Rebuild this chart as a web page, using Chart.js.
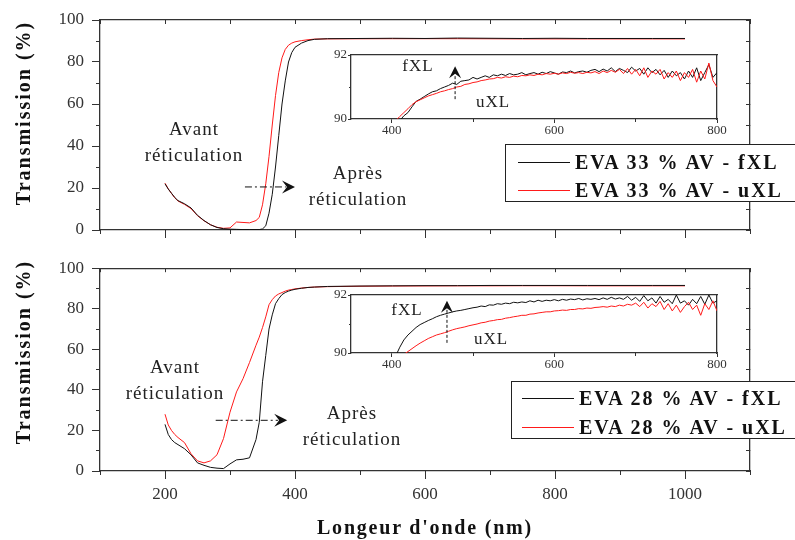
<!DOCTYPE html>
<html lang="fr">
<head>
<meta charset="utf-8">
<title>Transmission EVA</title>
<script src="https://cdn.jsdelivr.net/npm/chart.js@4.4.1/dist/chart.umd.min.js"></script>
<style>
  html, body { margin: 0; background: #fff; }
  #page { position: relative; width: 795px; height: 540px; overflow: hidden;
          font-family: "Liberation Serif", "Times New Roman", serif; color: #222; }
  #page canvas { position: absolute; }
  .note { position: absolute; font-size: 19px; line-height: 26px; letter-spacing: 1px;
          text-align: center; white-space: nowrap; transform: translateX(-50%); }
  .tag { position: absolute; font-size: 17px; letter-spacing: 1px; white-space: nowrap;
         transform: translate(-50%, -50%); }
  .ytitle { position: absolute; font-weight: bold; font-size: 20px; letter-spacing: 2px; white-space: nowrap;
            transform: translate(-50%, -50%) rotate(-90deg); color: #111; }
  .xtitle { position: absolute; font-weight: bold; font-size: 20px; letter-spacing: 1.8px; white-space: nowrap;
            transform: translate(-50%, -50%); color: #111; }
  .legend { position: absolute; width: 330px; height: 56px; border: 1.3px solid #222; background: #fff; }
  .legend .row { position: absolute; height: 28px; display: flex; align-items: center;
                 font-weight: bold; font-size: 20px; letter-spacing: 2px; color: #111; white-space: nowrap; }
  .legend .sw { display: inline-block; width: 52px; height: 0; border-top: 1.2px solid; margin-right: 5px; }
</style>
</head>
<body>
<div id="page">
  <canvas id="mainTop" width="795" height="250" style="left:0;top:0"></canvas>
  <canvas id="mainBot" width="795" height="290" style="left:0;top:250px"></canvas>
  <canvas id="insetTop" width="440" height="100" style="left:300px;top:40px"></canvas>
  <canvas id="insetBot" width="440" height="95" style="left:300px;top:280px"></canvas>

  <div class="ytitle" style="left:23px;top:113px">Transmission (%)</div>
  <div class="ytitle" style="left:23px;top:352px">Transmission (%)</div>
  <div class="xtitle" style="left:425px;top:527px">Longeur d'onde (nm)</div>

  <div class="note" style="left:194px;top:116px">Avant<br>réticulation</div>
  <div class="note" style="left:358px;top:160px">Après<br>réticulation</div>
  <div class="note" style="left:175px;top:354px">Avant<br>réticulation</div>
  <div class="note" style="left:352px;top:400px">Après<br>réticulation</div>

  <div class="tag" style="left:418px;top:66px">fXL</div>
  <div class="tag" style="left:493px;top:102px">uXL</div>
  <div class="tag" style="left:407px;top:310px">fXL</div>
  <div class="tag" style="left:491px;top:339px">uXL</div>

  <div class="legend" id="legTop" style="left:505px;top:144px"></div>
  <div class="legend" id="legBot" style="left:511px;top:381px"></div>
</div>

<script>
// ---- data ----
const wlMain = [200, 205, 210, 215, 220, 230, 240, 250, 260, 270, 280, 290, 300, 310, 320, 330, 340,
  345, 350, 355, 360, 365, 370, 375, 380, 385, 390, 395, 400, 410, 420, 430, 450,
  500, 550, 600, 650, 700, 750, 800, 850, 900, 950, 1000];

// EVA 33 % AV
const t33fXL = [22, 19.5, 17.5, 15.5, 14, 12.5, 10.5, 7, 4.5, 2.5, 1.2, 0.6, 0.4, 0.3, 0.2, 0.2, 0.2,
  0.2, 0.5, 2, 8, 17, 30, 45, 60, 71, 80, 84.5, 87, 89, 90.2, 90.8, 91.1,
  91.2, 91.3, 91.2, 91.4, 91.3, 91.2, 91.3, 91.2, 91.2, 91.2, 91.2];
const t33uXL = [22.3, 19.6, 17.4, 15.3, 13.8, 12.2, 10.2, 6.8, 4.4, 2.5, 1.3, 0.8, 1.0, 3.8, 3.6, 3.4, 4.5,
  6, 12, 22, 35, 50, 64, 75, 82, 86, 88, 89, 89.6, 90.2, 90.6, 90.9, 91.0,
  91.05, 91.1, 91.1, 91.1, 91.05, 91.0, 91.0, 91.0, 91.0, 91.0, 91.0];

// EVA 28 % AV
const t28fXL = [23, 18, 15.5, 14, 13, 11, 8, 4, 2.8, 1.8, 1.4, 1.2, 3.5, 5.5, 5.8, 6.5, 15.5,
  24, 44, 57, 70, 77, 82.5, 85, 87, 88, 88.7, 89.2, 89.6, 90.1, 90.5, 90.7, 91.0,
  91.2, 91.3, 91.4, 91.4, 91.5, 91.5, 91.5, 91.5, 91.5, 91.5, 91.5];
const t28uXL = [28, 22.7, 20, 18, 16.5, 14, 8.5, 5, 4, 5, 8, 16, 29, 39, 45.5, 53.5, 62,
  66, 70.7, 76, 82, 84.5, 86.3, 87.3, 88, 88.7, 89.2, 89.5, 89.8, 90.2, 90.5, 90.7, 90.9,
  91.1, 91.2, 91.25, 91.3, 91.3, 91.35, 91.35, 91.3, 91.3, 91.3, 91.3];

// zoomed insets (90-92 %)
const wlInset = [400, 405, 410, 415, 420, 425, 430, 435, 440, 445,
  450, 455, 460, 465, 470, 475, 480, 485, 490, 495,
  500, 505, 510, 515, 520, 525, 530, 535, 540, 545,
  550, 555, 560, 565, 570, 575, 580, 585, 590, 595,
  600, 605, 610, 615, 620, 625, 630, 635, 640, 645,
  650, 655, 660, 665, 670, 675, 680, 685, 690, 695,
  700, 705, 710, 715, 720, 725, 730, 735, 740, 745,
  750, 755, 760, 765, 770, 775, 780, 785, 790, 795, 800];
const z33fXL = [89.6, 89.75, 89.95, 90.1, 90.2, 90.38, 90.55, 90.62, 90.7, 90.78,
  90.85, 90.88, 90.95, 91.0, 91.05, 91.12, 91.08, 91.18, 91.2, 91.22,
  91.3, 91.25, 91.3, 91.35, 91.3, 91.38, 91.35, 91.4, 91.36, 91.42,
  91.38, 91.4, 91.45, 91.38, 91.42, 91.45, 91.4, 91.46, 91.42, 91.48,
  91.44, 91.4, 91.47, 91.45, 91.5, 91.44, 91.48, 91.5, 91.46, 91.52,
  91.55, 91.48, 91.56, 91.5, 91.6, 91.48, 91.58, 91.52, 91.45, 91.62,
  91.5, 91.58, 91.4, 91.6, 91.45, 91.55, 91.38, 91.52, 91.3, 91.5,
  91.35, 91.45, 91.25, 91.5, 91.3, 91.6, 91.2, 91.45, 91.7, 91.3, 91.45];
const z33uXL = [89.8, 89.95, 90.08, 90.2, 90.32, 90.45, 90.54, 90.6, 90.66, 90.72,
  90.76, 90.8, 90.85, 90.88, 90.92, 90.95, 91.0, 91.02, 91.08, 91.1,
  91.14, 91.16, 91.2, 91.22, 91.25, 91.26, 91.3, 91.28, 91.32, 91.3,
  91.34, 91.32, 91.36, 91.35, 91.38, 91.36, 91.4, 91.38, 91.42, 91.4,
  91.43, 91.4, 91.44, 91.42, 91.46, 91.43, 91.45, 91.42, 91.46, 91.44,
  91.48, 91.42, 91.5, 91.45, 91.52, 91.46, 91.55, 91.42, 91.58, 91.4,
  91.55, 91.35, 91.6, 91.3, 91.5, 91.4, 91.55, 91.25, 91.45, 91.3,
  91.5, 91.2, 91.45, 91.3, 91.55, 91.15, 91.5, 91.25, 91.75, 91.2, 91.0];
const z28fXL = [89.6, 89.9, 90.2, 90.45, 90.62, 90.75, 90.88, 90.98, 91.05, 91.12,
  91.18, 91.25, 91.3, 91.34, 91.38, 91.42, 91.45, 91.47, 91.5, 91.53,
  91.56, 91.58, 91.62, 91.6, 91.66, 91.65, 91.7, 91.68, 91.72, 91.7,
  91.75, 91.73, 91.76, 91.74, 91.8, 91.76, 91.82, 91.78, 91.82, 91.8,
  91.84, 91.8, 91.85, 91.82, 91.86, 91.84, 91.88, 91.83, 91.87, 91.85,
  91.88, 91.84, 91.9, 91.85, 91.92, 91.86, 91.9, 91.85, 91.95, 91.82,
  91.92, 91.78, 91.98, 91.8, 91.9, 91.72, 91.95, 91.75, 91.85, 91.7,
  92.0, 91.72, 91.8, 91.65, 91.85, 91.7, 91.95, 91.68, 92.0, 91.72, 91.8];
const z28uXL = [89.4, 89.6, 89.8, 89.95, 90.05, 90.15, 90.25, 90.34, 90.42, 90.5,
  90.56, 90.62, 90.66, 90.7, 90.75, 90.8, 90.84, 90.87, 90.9, 90.94,
  90.97, 91.0, 91.04, 91.06, 91.1, 91.12, 91.15, 91.16, 91.2, 91.22,
  91.25, 91.27, 91.3, 91.3, 91.34, 91.35, 91.38, 91.4, 91.42, 91.42,
  91.45, 91.46, 91.48, 91.47, 91.5, 91.5, 91.53, 91.52, 91.55, 91.54,
  91.57, 91.58, 91.6, 91.58, 91.62, 91.6, 91.65, 91.62, 91.68, 91.65,
  91.72, 91.6, 91.75, 91.55, 91.7, 91.6, 91.78, 91.5, 91.7, 91.45,
  91.65, 91.4, 91.6, 91.75, 91.5, 91.65, 91.3, 91.7, 91.5, 91.8, 91.45];

const names33 = ['EVA 33 % AV - fXL', 'EVA 33 % AV - uXL'];
const names28 = ['EVA 28 % AV - fXL', 'EVA 28 % AV - uXL'];

// tick values
const mainXTicks = [200, 400, 600, 800, 1000];
const mainXAll = [100, 200, 300, 400, 500, 600, 700, 800, 900, 1000, 1100];
const mainYTicks = [0, 20, 40, 60, 80, 100];
const mainYAll = [0, 10, 20, 30, 40, 50, 60, 70, 80, 90, 100];
const insetXTicks = [400, 600, 800];
const insetXMinor = [500, 700];
const insetYTicks = [90, 92];
const insetYMinor = [91];

// ---- styling ----
const serif = '"Liberation Serif", "Times New Roman", serif';
const ink = '#333';
const black = '#111';
const red = '#ff1a1a';

const toPts = (xs, ys) => xs.map((x, i) => ({ x, y: ys[i] }));

function axis(pos, min, max, ticks, o) {
  return {
    type: 'linear', position: pos, min, max, weight: o.weight || 0,
    afterBuildTicks: s => { s.ticks = ticks.map(v => ({ value: v })); },
    ticks: {
      display: !!o.labels, color: ink, padding: o.pad || 0, maxRotation: 0, autoSkip: false,
      font: { family: serif, size: o.font || 17 }, callback: v => String(v)
    },
    grid: { drawOnChartArea: false, drawTicks: true, tickLength: o.tick || 0, tickColor: ink, tickWidth: 1 },
    border: { display: !!o.border, color: ink, width: 1.3 },
    afterFit: s => { if (s.isHorizontal()) s.height = o.size || 0; else s.width = o.size || 0; }
  };
}

// arrows placed in data coordinates
const arrowPlugin = {
  id: 'arrows',
  afterDatasetsDraw(chart, args, opts) {
    const { ctx, scales } = chart;
    (opts.items || []).forEach(a => {
      const x1 = scales.x.getPixelForValue(a.from[0]), y1 = scales.y.getPixelForValue(a.from[1]);
      const x2 = scales.x.getPixelForValue(a.to[0]), y2 = scales.y.getPixelForValue(a.to[1]);
      const ang = Math.atan2(y2 - y1, x2 - x1);
      const L = a.head;
      ctx.save();
      ctx.strokeStyle = black;
      ctx.lineWidth = 1;
      ctx.setLineDash(a.dash);
      ctx.beginPath();
      ctx.moveTo(x1, y1);
      ctx.lineTo(x2 - Math.cos(ang) * L * 0.7, y2 - Math.sin(ang) * L * 0.7);
      ctx.stroke();
      ctx.setLineDash([]);
      ctx.translate(x2, y2);
      ctx.rotate(ang);
      ctx.beginPath();
      ctx.moveTo(0, 0);
      ctx.lineTo(-L, -L * 0.5);
      ctx.lineTo(-L * 0.62, 0);
      ctx.lineTo(-L, L * 0.5);
      ctx.closePath();
      ctx.fillStyle = black;
      ctx.fill();
      ctx.restore();
    });
  }
};

// blackOnTop: which trace is painted last
function datasets(xs, fXL, uXL, names, blackOnTop) {
  return [
    { label: names[0], data: toPts(xs, fXL), borderColor: black, borderWidth: 1, pointRadius: 0, order: blackOnTop ? 0 : 1 },
    { label: names[1], data: toPts(xs, uXL), borderColor: red, borderWidth: 1, pointRadius: 0, order: blackOnTop ? 1 : 0 }
  ];
}

function mainChart(id, fXL, uXL, names, withLabels, pad, xh, arrow) {
  return new Chart(document.getElementById(id), {
    type: 'line',
    data: { datasets: datasets(wlMain, fXL, uXL, names, true) },
    options: {
      responsive: false, animation: false, devicePixelRatio: 1,
      layout: { padding: { top: pad, right: 45, left: 0, bottom: 0 } },
      elements: { line: { tension: 0 } },
      plugins: { legend: { display: false }, tooltip: { enabled: false }, arrows: { items: [arrow] } },
      scales: {
        x: axis('bottom', 100, 1100, mainXTicks, { weight: 1, labels: withLabels, pad: 5, tick: 8, border: true, size: xh }),
        xMinor: axis('bottom', 100, 1100, mainXAll, { tick: 4 }),
        xTop: axis('top', 100, 1100, mainXAll, { tick: -4, border: true }),
        y: axis('left', 0, 100, mainYTicks, { weight: 1, labels: true, pad: 8, tick: 8, border: true, size: 100 }),
        yMinor: axis('left', 0, 100, mainYAll, { tick: 4 }),
        yRight: axis('right', 0, 100, mainYAll, { tick: -4, border: true })
      }
    },
    plugins: [arrowPlugin]
  });
}

function insetChart(id, fXL, uXL, names, xh, arrow) {
  return new Chart(document.getElementById(id), {
    type: 'line',
    data: { datasets: datasets(wlInset, fXL, uXL, names, false) },
    options: {
      responsive: false, animation: false, devicePixelRatio: 1,
      layout: { padding: { top: 15, right: 23, left: 0, bottom: 0 } },
      elements: { line: { tension: 0 } },
      plugins: { legend: { display: false }, tooltip: { enabled: false }, arrows: { items: [arrow] } },
      scales: {
        x: axis('bottom', 350, 800, insetXTicks, { weight: 1, labels: true, font: 13, pad: 0, tick: 4, border: true, size: xh }),
        xMinor: axis('bottom', 350, 800, insetXMinor, { tick: 3 }),
        xTop: axis('top', 350, 800, [], { border: true }),
        y: axis('left', 90, 92, insetYTicks, { weight: 1, labels: true, font: 13, pad: 1, tick: 3, border: true, size: 51 }),
        yMinor: axis('left', 90, 92, insetYMinor, { tick: 2 }),
        yRight: axis('right', 90, 92, [], { border: true })
      }
    },
    plugins: [arrowPlugin]
  });
}

mainChart('mainTop', t33fXL, t33uXL, names33, false, 20, 20,
  { from: [323, 20.5], to: [400, 20.5], head: 13, dash: [7, 3, 2, 3] });
mainChart('mainBot', t28fXL, t28uXL, names28, true, 10, 69,
  { from: [278, 25], to: [388, 25], head: 13, dash: [7, 3, 2, 3] });
insetChart('insetTop', z33fXL, z33uXL, names33, 21,
  { from: [478, 90.62], to: [478, 91.65], head: 12, dash: [3, 2] });
insetChart('insetBot', z28fXL, z28uXL, names28, 22,
  { from: [468, 90.35], to: [468, 91.8], head: 12, dash: [3, 2] });

// legends
function legend(id, names, rowTops, left) {
  const box = document.getElementById(id);
  names.forEach((n, i) => {
    const row = document.createElement('div');
    row.className = 'row';
    row.style.top = rowTops[i] + 'px';
    row.style.left = left + 'px';
    const sw = document.createElement('span');
    sw.className = 'sw';
    sw.style.borderColor = i === 0 ? black : red;
    row.appendChild(sw);
    row.appendChild(document.createTextNode(n));
    box.appendChild(row);
  });
}
legend('legTop', names33, [3, 31], 12);
legend('legBot', names28, [2, 31], 10);
</script>
</body>
</html>
